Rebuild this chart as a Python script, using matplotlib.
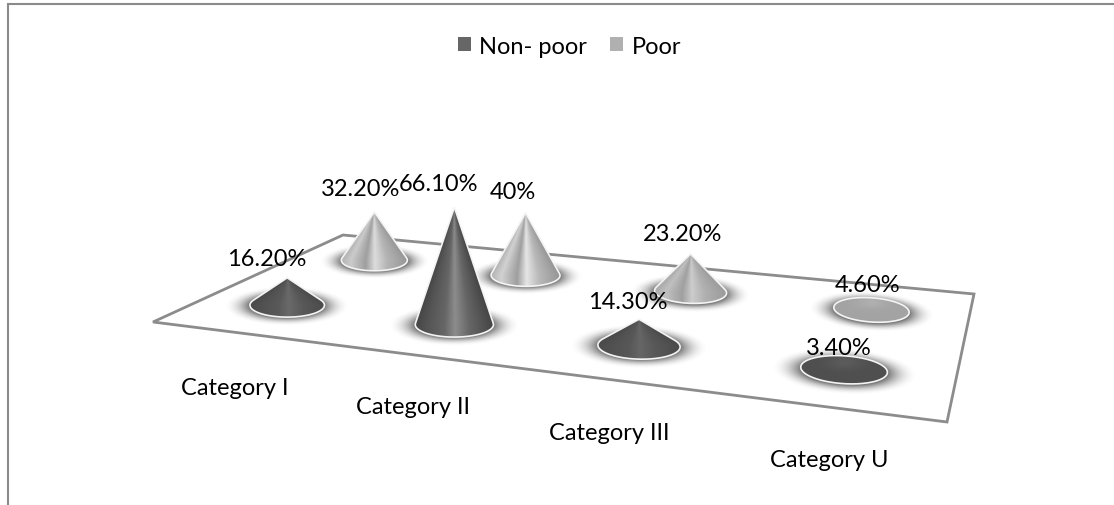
import numpy as np
import matplotlib
matplotlib.use('Agg')
import matplotlib.pyplot as plt
from matplotlib.patches import Polygon, Patch, Rectangle

plt.rcParams['font.family'] = ['Lato', 'DejaVu Sans']

categories = ['Category I', 'Category II', 'Category III', 'Category U']
series_names = ['Non- poor', 'Poor']
non_poor = [16.2, 66.1, 14.3, 3.4]
poor = [32.2, 40.0, 23.2, 4.6]

# floor plane corners in pixels: front left, front right, back right, back left
FLOOR = [(153, 323), (947, 423), (974, 295), (343, 236)]
BASE_RADIUS = 38.8
ELLIPSE_RATIO = 0.32
HEIGHT_SCALE = 1.76
LEGEND_COLORS = ['#666666', '#b0b0b0']
EDGE_COLOR = '#8c8c8c'
FONT_SIZE = 17

# shading across a cone from left edge to right edge
STOP_POS = [-1.0, -0.7, -0.25, 0.03, 0.4, 1.0]
STOPS = {
    0: [0.27, 0.33, 0.40, 0.55, 0.40, 0.27],
    1: [0.70, 0.82, 0.62, 0.90, 0.72, 0.58],
}
MUTED = {0: 0.31, 1: 0.64}

# label offsets from the cone tip, in pixels
NUDGE = {
    0: [(-20, -19), (-16, -24), (-11, -18), (-5, -16)],
    1: [(-14, -23), (-13, -21), (-8, -20), (-4, -18)],
}
CATEGORY_NUDGE = [(-52, 82), (-41, 82), (-30, 87), (-15, 90)]


def floor_homography(corners):
    (x0, y0), (x1, y1), (x2, y2), (x3, y3) = corners
    det = (x1 - x2) * (y3 - y2) - (y1 - y2) * (x3 - x2)
    sx, sy = x0 - x1 + x2 - x3, y0 - y1 + y2 - y3
    g = (sx * (y3 - y2) - sy * (x3 - x2)) / det
    h = ((x1 - x2) * sy - (y1 - y2) * sx) / det
    return np.array([[x1 - x0 + g * x1, x3 - x0 + h * x3, x0],
                     [y1 - y0 + g * y1, y3 - y0 + h * y3, y0],
                     [g, h, 1.0]])


H = floor_homography(FLOOR)


def project(cat, row):
    # cat and row are slot indexes on the floor grid
    s = (cat + 0.5) / len(categories)
    t = (row + 0.5) / len(series_names)
    px, py, w = H @ np.array([s, t, 1.0])
    return px / w, py / w, w


def draw_cone(ax, cat, row, value, zorder):
    cx, cy, w = project(cat, row)
    a = BASE_RADIUS / w
    b = a * ELLIPSE_RATIO
    height = HEIGHT_SCALE * value / w
    tilt = np.radians(max(0.0, cx - 500) * 0.011)
    cos_t, sin_t = np.cos(tilt), np.sin(tilt)
    apex_x, apex_y = cx, cy - height

    # outline in the ellipse frame: tangent lines to the tip plus the front arc
    if height > b * 1.05:
        y_t = -b * b / height
        start = np.arctan2(y_t / b, np.sqrt(1 - (y_t / b) ** 2))
        angles = np.linspace(start, np.pi - start, 60)
        ex, ey = a * np.cos(angles), b * np.sin(angles)
    else:
        angles = np.linspace(0, 2 * np.pi, 120)
        ex, ey = a * np.cos(angles), b * np.sin(angles)
    outline = np.column_stack([cx + ex * cos_t - ey * sin_t, cy + ex * sin_t + ey * cos_t])
    if height > b * 1.05:
        outline = np.vstack([[apex_x, apex_y], outline])

    # soft shadow on the floor around the base
    gx = np.arange(cx - a * 1.9, cx + a * 1.9, 1.0)
    gy = np.arange(cy - b * 2.1, cy + b * 2.2, 1.0)
    xx, yy = np.meshgrid(gx, gy)
    dx, dy = xx - cx, yy - cy - 1
    r = np.hypot((dx * cos_t + dy * sin_t) / a, (-dx * sin_t + dy * cos_t) / b)
    alpha = 0.75 * np.clip(1 - (r - 1) / 0.7, 0, 1) ** 2
    glow = np.zeros(xx.shape + (4,))
    glow[..., :3] = 0.28
    glow[..., 3] = alpha
    ax.imshow(glow, extent=(gx[0], gx[-1], gy[-1], gy[0]), aspect='auto',
              interpolation='bilinear', zorder=zorder)

    # cone surface shaded by position across its width
    sx = np.arange(cx - a - 2, cx + a + 2, 0.5)
    sy = np.arange(min(apex_y, cy - b) - 2, cy + b + 12, 0.5)
    xx, yy = np.meshgrid(sx, sy)
    span = np.clip((yy - apex_y) / max(height, 1.0), 0.02, 1.0)
    pos = np.clip((xx - cx) / (a * span), -1, 1)
    contrast = np.clip(height / a / 1.7, 0, 1)
    shade = MUTED[row] + contrast * (np.interp(pos, STOP_POS, STOPS[row]) - MUTED[row])
    if height <= b * 1.05:
        # nearly flat cones are a single tone, a little lighter near the tip
        shade = MUTED[row] + 0.05 * np.exp(-((xx - cx) ** 2 / (a * 0.4) ** 2 + (yy - apex_y) ** 2 / (b * 0.5) ** 2))

    rim = Polygon(outline, closed=True, facecolor='none', edgecolor='#f4f4f4', linewidth=1.2, zorder=zorder + 0.2)
    ax.add_patch(rim)
    surface = ax.imshow(shade, extent=(sx[0], sx[-1], sy[-1], sy[0]), aspect='auto', cmap='gray',
                        vmin=0, vmax=1, interpolation='bilinear', zorder=zorder + 0.1)
    surface.set_clip_path(rim)
    return apex_x, apex_y


def value_label(value):
    return f'{value:.0f}%' if float(value).is_integer() else f'{value:.2f}%'


fig = plt.figure(figsize=(11.14, 5.06), dpi=100)
ax = fig.add_axes([0, 0, 1, 1])

# chart area border, open at the right and bottom of the canvas
ax.add_patch(Rectangle((8, 5), 1300, 700, facecolor='white', edgecolor='#8a8a8a', linewidth=1.5, zorder=0))
ax.add_patch(Polygon(FLOOR, closed=True, facecolor='white', edgecolor=EDGE_COLOR, linewidth=2.0, zorder=1))

# back row first so the front cones overlap it
z = 2
tips = {}
for row, values in [(1, poor), (0, non_poor)]:
    for cat, value in enumerate(values):
        tips[(cat, row)] = draw_cone(ax, cat, row, value, z)
        z += 1

for row, values in [(0, non_poor), (1, poor)]:
    for cat, value in enumerate(values):
        tip_x, tip_y = tips[(cat, row)]
        nx, ny = NUDGE[row][cat]
        ax.text(tip_x + nx, tip_y + ny, value_label(value), ha='center', va='center',
                fontsize=FONT_SIZE, color='black', zorder=50)

for cat, name in enumerate(categories):
    base_x, base_y, _ = project(cat, 0)
    nx, ny = CATEGORY_NUDGE[cat]
    ax.text(base_x + nx, base_y + ny, name, ha='center', va='center',
            fontsize=FONT_SIZE, color='black', zorder=50)

handles = [Patch(facecolor=c, edgecolor='none') for c in LEGEND_COLORS]
ax.legend(handles, series_names, loc='center', bbox_to_anchor=(569.5, 47), bbox_transform=ax.transData,
          ncol=2, frameon=False, fontsize=FONT_SIZE, handlelength=0.55, handleheight=0.55,
          handletextpad=0.34, columnspacing=1.0, borderpad=0)

ax.set_xlim(0, 1114)
ax.set_ylim(506, 0)
ax.axis('off')

fig.savefig('out.png', dpi=100, facecolor='white')
